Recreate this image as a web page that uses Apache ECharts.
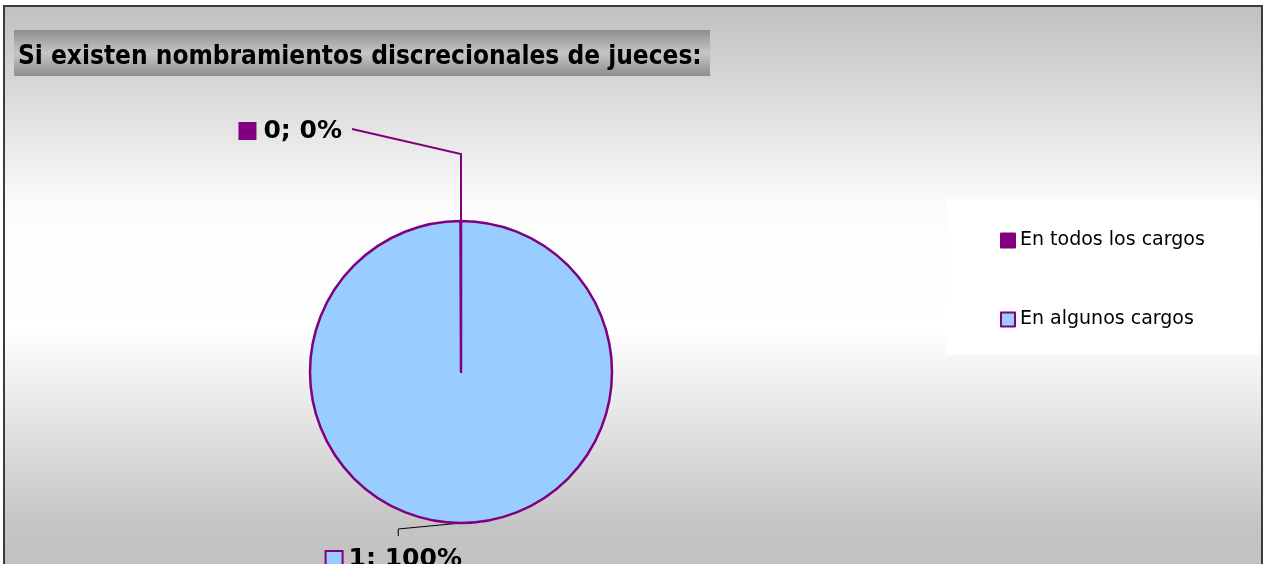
<!DOCTYPE html>
<html>
<head>
<meta charset="utf-8">
<script src="https://cdn.jsdelivr.net/npm/echarts@6/dist/echarts.min.js"></script>
<style>
html, body { margin: 0; padding: 0; background: #fff; overflow: hidden; }
#chartmain { position: absolute; left: 3px; top: 5px; width: 1256px; height: 559px; border: 2px solid #3c3c3c; }
</style>
</head>
<body>
<div id="chartmain"></div>
<script>
// datos
var titulo = 'Si existen nombramientos discrecionales de jueces:';
var categorias = ['En todos los cargos', 'En algunos cargos'];
var valores = [0, 1];
var colores = ['#800080', '#99CCFF'];

var centro = [456, 365];

var datos = [];
for (var i = 0; i < categorias.length; i++) {
	datos.push({
		name : categorias[i],
		value : valores[i],
		itemStyle : { color : colores[i] },
		labelLine : {
			lineStyle : i === 0 ? { color : '#800080', width : 2 } : { color : '#000', width : 1 }
		}
	});
}

var option = {
	backgroundColor : {
		type : 'linear', x : 0, y : 0, x2 : 0, y2 : 1,
		colorStops : [
			{ offset : 0, color : '#c0c0c0' },
			{ offset : 0.36, color : '#fcfcfc' },
			{ offset : 0.58, color : '#ffffff' },
			{ offset : 0.93, color : '#c4c4c4' },
			{ offset : 1, color : '#c2c2c2' }
		]
	},
	graphic : [ {
		type : 'rect',
		shape : { x : 9, y : 23, width : 696, height : 46 },
		style : {
			fill : {
				type : 'linear', x : 0, y : 0, x2 : 0, y2 : 1,
				colorStops : [
					{ offset : 0, color : '#8e8e8e' },
					{ offset : 0.5, color : '#c6c6c6' },
					{ offset : 1, color : '#8e8e8e' }
				]
			}
		},
		z : -1
	} ],
	title : {
		text : titulo,
		left : 13,
		top : 36,
		padding : 0,
		textStyle : {
			fontFamily : '"DejaVu Sans Condensed", "DejaVu Sans"',
			fontSize : 26,
			fontWeight : 'bold',
			color : '#000',
			lineHeight : 28
		}
	},
	legend : {
		orient : 'vertical',
		left : 941,
		top : 192,
		padding : [ 32, 53, 26, 54 ],
		itemGap : 60,
		itemWidth : 14,
		itemHeight : 14,
		icon : 'rect',
		backgroundColor : '#ffffff',
		selectedMode : false,
		data : categorias,
		textStyle : {
			fontFamily : 'DejaVu Sans',
			fontSize : 19,
			color : '#000'
		},
		itemStyle : { borderWidth : 2 }
	},
	series : [ {
		type : 'pie',
		center : centro,
		radius : 151,
		startAngle : 90,
		endAngle : -269.8,
		clockwise : true,
		avoidLabelOverlap : false,
		animation : false,
		itemStyle : {
			borderColor : '#800080',
			borderWidth : 2.5
		},
		label : {
			show : true,
			position : 'outside',
			formatter : function(p) {
				var sq = p.dataIndex === 0 ? 'a' : 'b';
				return '{' + sq + '|}{t|' + p.value + '; ' + Math.round(p.percent) + '%}';
			},
			rich : {
				a : { width : 18, height : 18, backgroundColor : '#800080' },
				b : { width : 15, height : 15, backgroundColor : '#99CCFF', borderColor : '#800080', borderWidth : 2 },
				t : { fontFamily : 'DejaVu Sans', fontSize : 25, fontWeight : 'bold', color : '#000', padding : [ 0, 0, 0, 7 ] }
			}
		},
		labelLine : {
			show : true,
			length : 20,
			length2 : 20
		},
		labelLayout : function(p) {
			var e = p.labelLinePoints[0];
			if (p.dataIndex === 0) {
				var a = [e[0], e[1] - 67];
				var b = [e[0] - 109, e[1] - 92];
				return {
					x : b[0] - 10, y : b[1] + 2,
					align : 'right', verticalAlign : 'middle',
					labelLinePoints : [ e, a, b ]
				};
			}
			var c = [e[0] - 63, e[1] + 6];
			var d = [e[0] - 63, e[1] + 13];
			return {
				x : d[0] - 4, y : d[1] + 11,
				align : 'center', verticalAlign : 'top',
				labelLinePoints : [ e, c, d ]
			};
		},
		data : datos
	} ]
};

var myChart = echarts.init(document.getElementById('chartmain'));
myChart.setOption(option);
</script>
</body>
</html>
